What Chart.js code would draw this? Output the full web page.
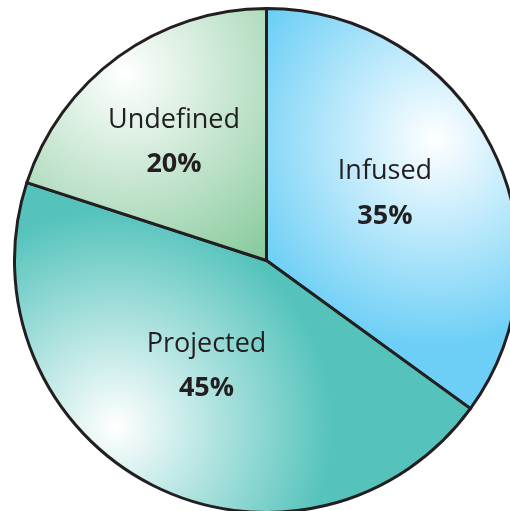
<!DOCTYPE html>
<html>
<head>
<meta charset="utf-8">
<script src="https://cdn.jsdelivr.net/npm/chart.js@4"></script>
<style>
	html, body { margin: 0; padding: 0; background: #fff; overflow: hidden; width: 510px; height: 511px; }
	#wrap { position: absolute; left: 13px; top: 7px; width: 507px; height: 507px; }
</style>
</head>
<body>
<div id="wrap"><canvas id="pie" width="507" height="507"></canvas></div>
<script>
/* data */
const categories = ['Infused', 'Projected', 'Undefined'];
const shares = [35, 45, 20];

/* style */
const baseColors = ['#6dcff6', '#55c3bc', '#85c99b'];
// highlight spot + gradient reach, in units of the pie radius
const highlights = [
	{ x: 0.67, y: -0.48, r: 0.82 },
	{ x: -0.60, y: 0.66, r: 0.86 },
	{ x: -0.56, y: -0.74, r: 0.92 },
];
// label anchor (name baseline), in units of the pie radius
const labelSpots = [
	{ x: 0.470, y: -0.322 },
	{ x: -0.238, y: 0.362 },
	{ x: -0.367, y: -0.526 },
];
const inkColor = '#231f20';
const lineGap = 44.5;

const pieGeometry = (chart) => {
	const { chartArea } = chart;
	const cx = (chartArea.left + chartArea.right) / 2;
	const cy = (chartArea.top + chartArea.bottom) / 2;
	const r = (Math.min(chartArea.width, chartArea.height) - 3) / 2;
	return { cx, cy, r };
};

const sliceFill = (context) => {
	const chart = context.chart;
	const i = context.dataIndex;
	if (!chart.chartArea) return baseColors[i];
	const { cx, cy, r } = pieGeometry(chart);
	const h = highlights[i];
	const hx = cx + h.x * r;
	const hy = cy + h.y * r;
	const grad = chart.ctx.createRadialGradient(hx, hy, 0, hx, hy, h.r * r);
	grad.addColorStop(0, '#ffffff');
	grad.addColorStop(1, baseColors[i]);
	return grad;
};

const sliceLabels = {
	id: 'sliceLabels',
	afterDatasetsDraw(chart) {
		const ctx = chart.ctx;
		const meta = chart.getDatasetMeta(0);
		ctx.save();
		ctx.fillStyle = inkColor;
		ctx.textAlign = 'center';
		ctx.textBaseline = 'alphabetic';
		meta.data.forEach((arc, i) => {
			const x = arc.x + labelSpots[i].x * arc.outerRadius;
			const y = arc.y + labelSpots[i].y * arc.outerRadius;
			ctx.font = '400 27px "Open Sans"';
			ctx.fillText(categories[i], x, y);
			ctx.font = '700 27px "Open Sans"';
			ctx.fillText(`${shares[i]}%`, x, y + lineGap);
		});
		ctx.restore();
	},
};

new Chart(document.getElementById('pie'), {
	type: 'pie',
	data: {
		labels: categories,
		datasets: [{
			data: shares,
			backgroundColor: sliceFill,
			borderColor: inkColor,
			borderWidth: 3,
			hoverBorderWidth: 3,
			borderJoinStyle: 'miter',
			offset: 0,
			hoverOffset: 0,
		}],
	},
	options: {
		responsive: false,
		animation: false,
		events: [],
		rotation: 0,
		layout: { padding: 0 },
		plugins: {
			legend: { display: false },
			tooltip: { enabled: false },
		},
	},
	plugins: [sliceLabels],
});
</script>
</body>
</html>
